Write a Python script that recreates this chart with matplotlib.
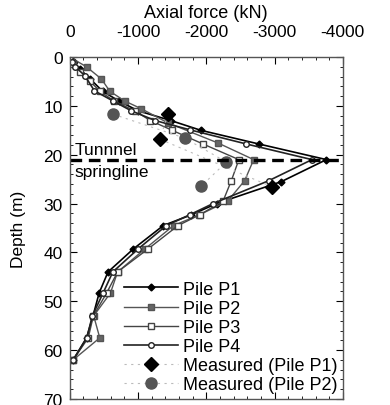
import matplotlib
matplotlib.use("Agg")
import matplotlib.pyplot as plt
import numpy as np

# --- Data (axial force in kN, depth in m) ---
p1_depth = [0, 1, 2.5, 4.5, 7, 9, 11, 13, 15, 17.8, 21, 25.5, 30, 32.3, 34.5, 39.3, 44, 48.3, 53, 57.5, 62]
p1_force = [0, -60, -150, -300, -480, -720, -1000, -1480, -1920, -2770, -3760, -3100, -2150, -1780, -1370, -930, -560, -430, -340, -245, -50]

p2_depth = [0, 2, 4.5, 7, 9, 10.6, 13.5, 17.6, 21, 25.3, 29.5, 32.3, 34.5, 39.3, 44, 48.3, 53, 57.5, 62]
p2_force = [0, -245, -464, -586, -805, -1050, -1440, -2172, -2694, -2562, -2313, -1900, -1520, -1100, -700, -596, -350, -439, -50]

p3_depth = [0, 1.5, 3, 5, 7, 9, 11, 13, 15, 17.8, 21, 25.3, 29.5, 32.3, 34.5, 39.3, 44, 48.3, 53, 57.5, 62]
p3_force = [0, -50, -150, -300, -440, -650, -950, -1180, -1500, -1952, -2477, -2367, -2245, -1903, -1586, -1146, -700, -540, -345, -270, -50]

p4_depth = [0, 1, 2, 3.8, 6.9, 9, 11, 13, 14.9, 17.8, 21, 25.3, 30, 32.3, 34.5, 39.3, 44, 48.3, 53, 57.5, 62]
p4_force = [0, -30, -80, -220, -360, -634, -900, -1250, -1760, -2587, -3548, -2918, -2098, -1757, -1415, -1000, -630, -488, -330, -250, -50]

meas_p1_depth = [11.7, 16.8, 26.6]
meas_p1_force = [-1440, -1318, -2967]

meas_p2_depth = [11.7, 16.6, 21.5, 26.4]
meas_p2_force = [-634, -1684, -2294, -1928]

springline_depth = 21

plt.rcParams['font.family'] = ['Liberation Sans', 'DejaVu Sans']
plt.rcParams['axes.unicode_minus'] = False

fig = plt.figure(figsize=(3.9, 4.06), dpi=100)
ax = fig.add_axes([0.179, 0.015, 0.700, 0.842])

ax.plot(p1_force, p1_depth, color='black', lw=1.2, marker='D', ms=3.5,
        mfc='black', mec='black', label='Pile P1')
ax.plot(p2_force, p2_depth, color='#555555', lw=1.0, marker='s', ms=4,
        mfc='#666666', mec='#555555', label='Pile P2')
ax.plot(p3_force, p3_depth, color='#444444', lw=1.0, marker='s', ms=4.5,
        mfc='white', mec='#444444', label='Pile P3')
ax.plot(p4_force, p4_depth, color='#222222', lw=1.2, marker='o', ms=4,
        mfc='white', mec='#222222', label='Pile P4')
ax.plot(meas_p1_force, meas_p1_depth, color='#bbbbbb', lw=0.8, ls=(0, (2, 4)),
        marker='D', ms=7.5, mfc='black', mec='black', label='Measured (Pile P1)')
ax.plot(meas_p2_force, meas_p2_depth, color='#bbbbbb', lw=0.8, ls=(0, (2, 4)),
        marker='o', ms=8, mfc='#555555', mec='#555555', label='Measured (Pile P2)')

ax.axhline(springline_depth, color='black', lw=2.4, ls=(0, (3.5, 2)))
ax.text(-70, 19.8, 'Tunnnel', fontsize=12.5, ha='left', va='baseline')
ax.text(-70, 21.9, 'springline', fontsize=12.5, ha='left', va='top')

ax.set_xlim(0, -4000)
ax.set_ylim(70, 0)
ax.xaxis.tick_top()
ax.xaxis.set_label_position('top')
ax.set_xticks([0, -1000, -2000, -3000, -4000])
ax.set_xticks(np.arange(0, -4001, -200), minor=True)
ax.set_yticks(np.arange(0, 71, 10))
ax.set_yticks(np.arange(0, 71, 2), minor=True)
ax.tick_params(which='both', direction='in', top=True, bottom=True, left=True, right=True,
               labelsize=12.5)
ax.tick_params(which='major', length=5)
ax.tick_params(which='minor', length=2.5)
ax.tick_params(axis='x', labelbottom=False, pad=13)
ax.tick_params(axis='y', labelright=False, pad=5)
ax.set_xlabel('Axial force (kN)', fontsize=13, labelpad=5)
ax.set_ylabel('Depth (m)', fontsize=12.5)
ax.yaxis.set_label_coords(-0.16, 0.5)
for s in ax.spines.values():
    s.set_color('#555555')
    s.set_linewidth(1.0)

ax.legend(loc='lower right', frameon=False, fontsize=13, handlelength=3.0,
          labelspacing=0.12, handletextpad=0.25, borderaxespad=0.1, borderpad=0.2)

fig.savefig('out.png', dpi=100)
